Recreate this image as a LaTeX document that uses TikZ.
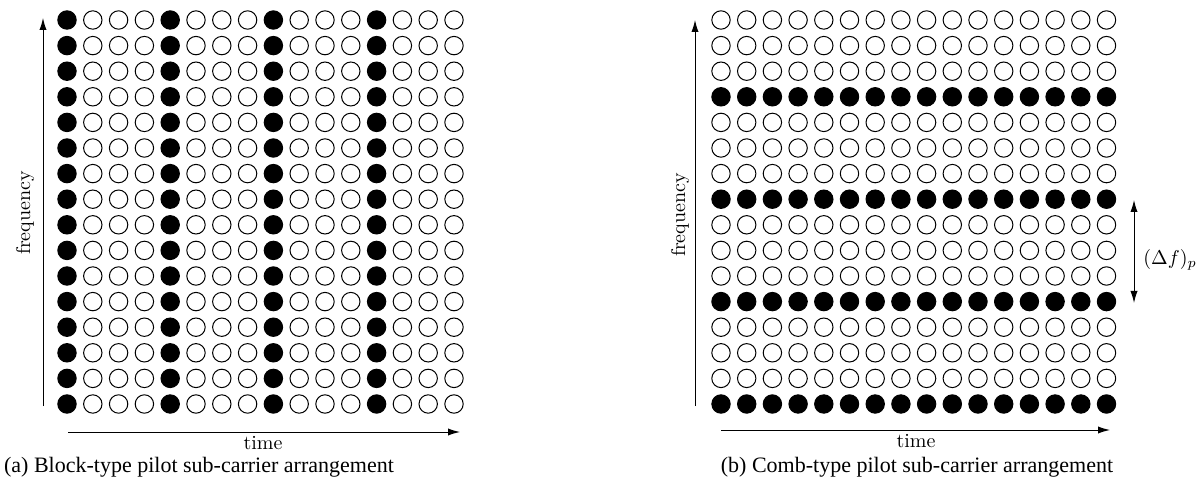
\documentclass[tikz,border=0pt]{standalone}
\usepackage{fontspec}
\newfontfamily\capfont{Liberation Serif}
\usetikzlibrary{arrows.meta}
\begin{document}
\begin{tikzpicture}[x=0.5pt,y=-0.5pt,
  carrier/.style={circle,draw=black,line width=0.5pt,inner sep=0pt,minimum size=9.2pt},
  pilot/.style={carrier,fill=black},
  arr/.style={line width=0.5pt,-{Latex[length=6pt,width=3.6pt]}},
  darr/.style={line width=0.5pt,{Latex[length=6pt,width=3.6pt]}-{Latex[length=6pt,width=3.6pt]}},
  lab/.style={inner sep=0pt,font=\fontsize{10}{12}\selectfont},
  captxt/.style={inner sep=0pt,font=\capfont\fontsize{11}{13}\selectfont}]
\useasboundingbox (0,0) rectangle (1199,486);
% (a) block type
\foreach \r in {0,...,15}{
  \foreach \c in {0,...,15}{
    \pgfmathtruncatemacro\m{mod(\c,4)}
    \ifnum\m=0
      \node[pilot] (a-\r-\c) at (67+25.8*\c,20+25.6*\r) {};
    \else
      \node[carrier] (a-\r-\c) at (67+25.8*\c,20+25.6*\r) {};
    \fi
  }
}
\coordinate (afb) at (43,406);
\coordinate (aft) at (43,18);
\draw[arr] (afb) -- (aft);
\node[lab,rotate=90] (aflab) at (25,213) {frequency};
\coordinate (atl) at (68,432);
\coordinate (atr) at (460,432);
\draw[arr] (atl) -- (atr);
\node[lab] (atlab) at (263,443) {time};
\node[captxt] (acap) at (199,467) {(a) Block-type pilot sub-carrier arrangement};
% (b) comb type
\foreach \r in {0,...,15}{
  \foreach \c in {0,...,15}{
    \pgfmathtruncatemacro\m{mod(\r,4)}
    \ifnum\m=3
      \node[pilot] (b-\r-\c) at (721+25.7*\c,20+25.6*\r) {};
    \else
      \node[carrier] (b-\r-\c) at (721+25.7*\c,20+25.6*\r) {};
    \fi
  }
}
\coordinate (bfb) at (695,406);
\coordinate (bft) at (695,20);
\draw[arr] (bfb) -- (bft);
\node[lab,rotate=90] (bflab) at (680,215) {frequency};
\coordinate (btl) at (721,430);
\coordinate (btr) at (1110,430);
\draw[arr] (btl) -- (btr);
\node[lab] (btlab) at (916,441) {time};
\node[captxt] (bcap) at (917,467) {(b) Comb-type pilot sub-carrier arrangement};
\coordinate (dft) at (1134,200);
\coordinate (dfb) at (1134,303);
\draw[darr] (dft) -- (dfb);
\node[lab,anchor=west] (dflab) at (1143,260) {$(\Delta f)_p$};
\end{tikzpicture}
\end{document}
